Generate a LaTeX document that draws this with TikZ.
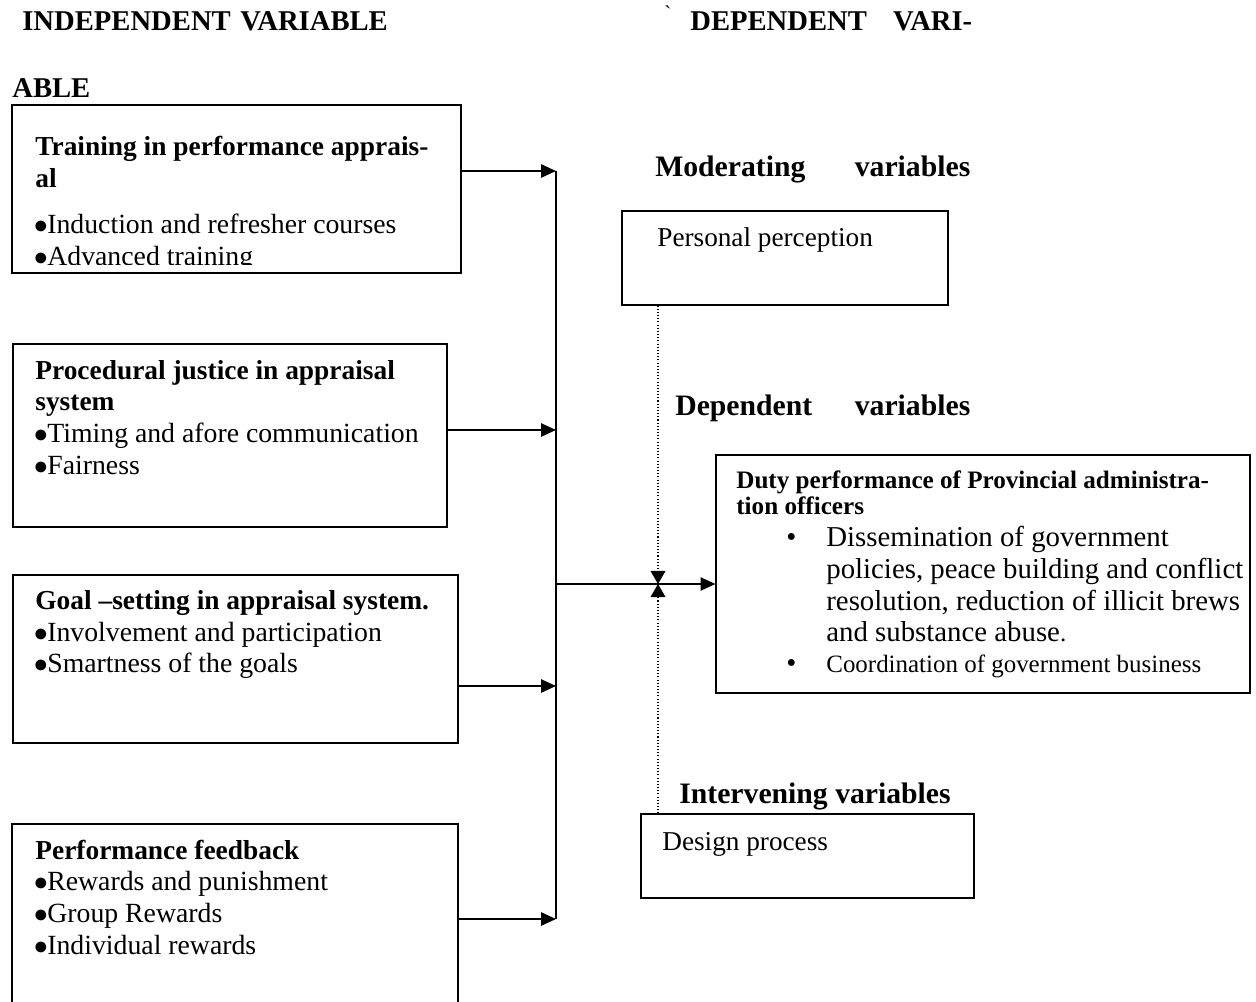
\documentclass[tikz,border=0pt]{standalone}
\usepackage{fontspec}
\usepackage{graphicx}
\setmainfont{Liberation Serif}
\usetikzlibrary{arrows.meta}
\newcommand{\blt}{\makebox[0.28cm][l]{\scalebox{0.9}{●}}}
\tikzset{
  box/.style={draw, line width=0.7pt, inner sep=0pt, rectangle},
  hdr/.style={anchor=base west, inner sep=0pt, font=\fontsize{16.3}{19}\selectfont\bfseries},
  ttl/.style={anchor=base west, inner sep=0pt, font=\fontsize{15.6}{19}\selectfont\bfseries},
  body/.style={anchor=base west, inner sep=0pt, font=\fontsize{15.8}{19}\selectfont},
  rbody/.style={anchor=base west, inner sep=0pt, font=\fontsize{16.4}{19}\selectfont},
  lbl/.style={anchor=base west, inner sep=0pt, font=\fontsize{16.9}{20}\selectfont\bfseries},
  sml/.style={anchor=base west, inner sep=0pt, font=\fontsize{14.2}{17}\selectfont},
  smlb/.style={anchor=base west, inner sep=0pt, font=\fontsize{14.3}{17}\selectfont\bfseries},
  arr/.style={line width=1.1pt, -{Triangle[length=8.5pt,width=7.5pt]}},
  darr/.style={line width=0.6pt, dash pattern=on 0.6pt off 1.2pt, -{Triangle[length=7.5pt,width=8.5pt]}},
}
\begin{document}
\begin{tikzpicture}[x=0.02cm,y=-0.02cm]
\clip (0,0) rectangle (1256,1001);
\fill[white] (0,0) rectangle (1256,1001);

% headers
\node[hdr] (h1) at (22,30) {\makebox[7.22cm][s]{INDEPENDENT\ \ VARIABLE}};
\node[hdr] (h2) at (690,30) {\makebox[5.64cm][s]{DEPENDENT VARI-}};
\node[hdr] (h3) at (12,97) {ABLE};
\node[anchor=base west, inner sep=0pt, font=\fontsize{12}{14}\selectfont] (tick) at (664,20) {\textasciigrave};

% boxes
\node[box, minimum width=8.98cm, minimum height=3.36cm] (b1) at (236.5,189) {};
\node[box, minimum width=8.68cm, minimum height=3.66cm] (b2) at (230,435.5) {};
\node[box, minimum width=8.90cm, minimum height=3.36cm] (b3) at (235.5,659) {};
\node[box, minimum width=8.92cm, minimum height=3.90cm] (b4) at (235,921.5) {};
\node[box, minimum width=6.52cm, minimum height=1.88cm] (pp) at (785,258) {};
\node[box, minimum width=6.66cm, minimum height=1.68cm] (dp) at (807.5,856) {};
\node[box, minimum width=10.68cm, minimum height=4.76cm] (dep) at (983,574) {};

% box 1 text
\node[ttl] (t1a) at (35,155) {Training in performance apprais-};
\node[ttl] (t1b) at (35,187) {al};
\node[body] (t1c) at (33,233) {\blt Induction and refresher courses};
\begin{scope}
\clip (12,105) rectangle (461,264);
\node[body] (t1d) at (33,265) {\blt Advanced training};
\end{scope}

% box 2 text
\node[ttl] (t2a) at (35,379) {Procedural justice in appraisal};
\node[ttl] (t2b) at (35,410) {system};
\node[body] (t2c) at (33,442) {\blt Timing and afore communication};
\node[body] (t2d) at (33,474) {\blt Fairness};

% box 3 text
\node[ttl] (t3a) at (35,609) {Goal –setting in appraisal system.};
\node[body] (t3b) at (33,641) {\blt Involvement and participation};
\node[body] (t3c) at (33,672) {\blt Smartness of the goals};

% box 4 text
\node[ttl] (t4a) at (35,859) {Performance feedback};
\node[body] (t4b) at (33,890) {\blt Rewards and punishment};
\node[body] (t4c) at (33,922) {\blt Group Rewards};
\node[body] (t4d) at (33,954) {\blt Individual rewards};

% right side labels
\node[lbl] (mod) at (655,176) {\makebox[6.3cm][s]{Moderating variables}};
\node[rbody, font=\fontsize{15.5}{19}\selectfont] (ppt) at (657,246) {Personal perception};
\node[lbl] (depl) at (675,415) {\makebox[5.9cm][s]{Dependent variables}};
\node[lbl] (intl) at (679,803) {Intervening variables};
\node[rbody, font=\fontsize{15.5}{19}\selectfont] (dpt) at (662,850) {Design process};

% dependent box text
\node[smlb] (d1) at (736,488) {Duty performance of Provincial administra-};
\node[smlb] (d2) at (736,514) {tion officers};
\node[rbody] (db1) at (786,546) {•};
\node[rbody] (d3) at (826,546) {Dissemination of government};
\node[rbody] (d4) at (826,578) {policies, peace building and conflict};
\node[rbody] (d5) at (826,610) {resolution, reduction of illicit brews};
\node[rbody] (d6) at (826,641) {and substance abuse\rlap{\fontsize{14.2}{17}\selectfont.}};
\node[rbody] (db2) at (786,672) {•};
\node[sml] (d7) at (826,672) {Coordination of government business};

% connectors
\coordinate (bt) at (556,171);
\coordinate (bb) at (556,919);
\coordinate (k2) at (556,430);
\coordinate (k3) at (556,686);
\coordinate (j) at (556,584);
\coordinate (m) at (658,584);
\draw[line width=1.1pt] (bt) -- (bb);
\draw[arr] (b1.east |- bt) -- (bt);
\draw[arr] (b2.east |- k2) -- (k2);
\draw[arr] (b3.east |- k3) -- (k3);
\draw[arr] (b4.east |- bb) -- (bb);
\draw[arr] (j) -- (dep.west |- j);
\draw[darr] (pp.south -| m) -- (m);
\draw[darr] (dp.north -| m) -- (m);
\end{tikzpicture}
\end{document}
